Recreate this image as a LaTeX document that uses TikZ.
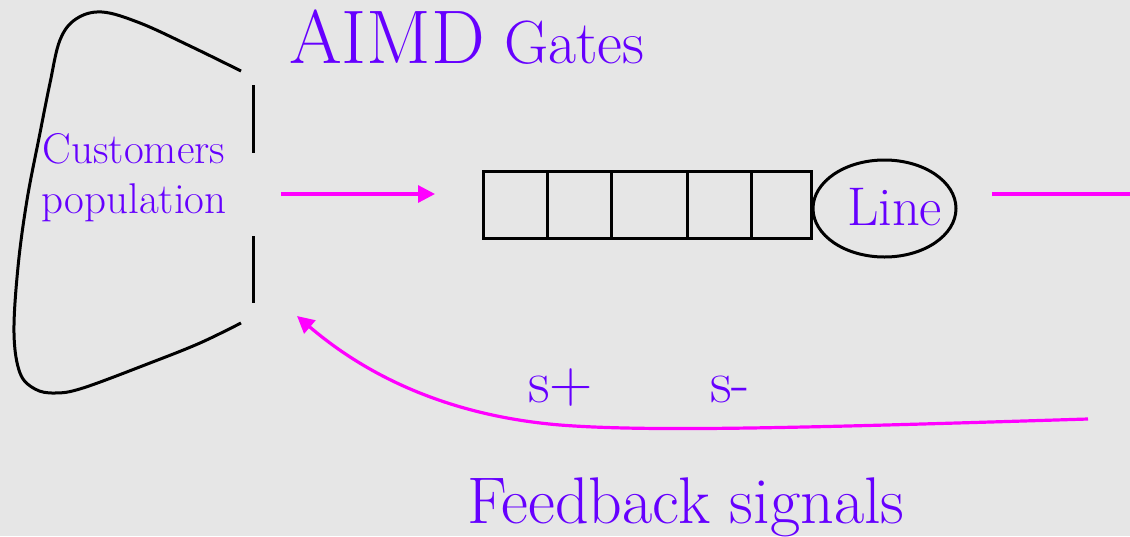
\documentclass[tikz,border=0pt]{standalone}
\usepackage{fontspec}
\usetikzlibrary{arrows.meta,shapes.geometric}
\definecolor{bgmarble}{HTML}{E6E6E6}
\definecolor{txtpurple}{HTML}{6600FF}
\definecolor{lnmagenta}{HTML}{FF00FF}
\tikzset{
  txtlabel/.style={text=txtpurple, inner sep=0pt, outer sep=0pt},
  cell/.style={draw=black, line width=3pt, minimum height=67pt, inner sep=0pt, outer sep=0pt},
  gateline/.style={draw=black, line width=3pt},
  flow/.style={draw=lnmagenta, line width=3.2pt},
  flowarrow/.style={flow, -{Triangle[length=17pt,width=17pt]}},
}
\begin{document}
\begin{tikzpicture}[x=1pt,y=-1pt]
\fill[bgmarble] (0,0) rectangle (1130,536);
\useasboundingbox (0,0) rectangle (1130,536);

% population outline
\draw[line width=3pt, black] plot[smooth, tension=0.6] coordinates {
 (241,71) (190,46) (140,23) (102,12) (76,19) (60,40) (50,83)
 (40,133) (27,200) (18,267) (14,333) (20,373) (35,389) (55,393) (83,388)
 (150,363) (200,343) (241,323)};

% gates
\coordinate (g1t) at (253,85);  \coordinate (g1b) at (253,153);
\coordinate (g2t) at (253,236); \coordinate (g2b) at (253,303);
\draw[gateline] (g1t) -- (g1b);
\draw[gateline] (g2t) -- (g2b);

% texts
\node[txtlabel, anchor=base west, font=\fontsize{76}{77}\selectfont] (aimd) at (289,63) {AIMD};
\node[txtlabel, anchor=base west, font=\fontsize{61}{61}\selectfont] (gates) at (504,63) {Gates};
\node[txtlabel, anchor=base, font=\fontsize{43}{50}\selectfont] (cust) at (134,163) {Customers};
\node[txtlabel, anchor=base, font=\fontsize{43}{50}\selectfont] (popu) at (134,213) {population};

% queue
\node[cell, minimum width=64pt] (c1) at (515,204.5) {};
\node[cell, minimum width=64pt] (c2) at (579,204.5) {};
\node[cell, minimum width=76pt] (c3) at (649,204.5) {};
\node[cell, minimum width=64pt] (c4) at (719,204.5) {};
\node[cell, minimum width=60pt] (c5) at (781,204.5) {};

% server
\node[draw=black, line width=3pt, ellipse, minimum width=143pt, minimum height=97pt, inner sep=0pt] (server) at (884.5,208.5) {};
\node[txtlabel, anchor=base, font=\fontsize{54.5}{55}\selectfont] (linetxt) at (894.5,225) {Line};

% arrows
\coordinate (inS) at (281,194);
\coordinate (inE) at (435,194);
\draw[flowarrow] (inS) -- (inE);
\coordinate (outS) at (992,194);
\coordinate (outE) at (1130,194);
\draw[flow] (outS) -- (outE);

\coordinate (fbS) at (1088,419);
\coordinate (fbE) at (297,316);
\draw[flowarrow] (fbS) .. controls (800,428) and (650,432) .. (560,425)
  .. controls (440,415) and (360,370) .. (fbE);

\node[txtlabel, anchor=base west, font=\fontsize{60}{60}\selectfont] (splus) at (528,402) {s+};
\node[txtlabel, anchor=base west, font=\fontsize{60}{60}\selectfont] (sminus) at (710,402) {s-};

\node[txtlabel, anchor=base west, font=\fontsize{66}{66}\selectfont] (fb) at (467,523) {Feedback signals};
\end{tikzpicture}
\end{document}
